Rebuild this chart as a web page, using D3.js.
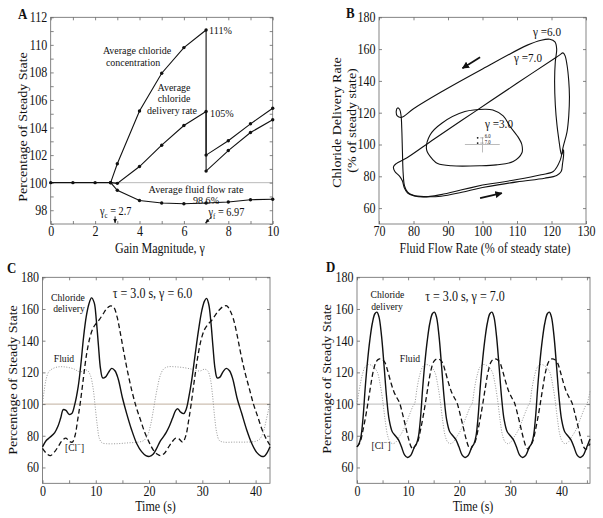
<!DOCTYPE html>
<html><head><meta charset="utf-8">
<script src="https://cdn.jsdelivr.net/npm/d3@7"></script>
<style>
body{margin:0;background:#fff}
svg{display:block;background:#fff}
text{font-family:"Liberation Serif","DejaVu Serif",serif;fill:#111}
</style>
</head><body><script>
// ---------------- DATA ----------------
// Panel A: averages vs gain magnitude
const gainFluid = [0,1,2,2.7,3,4,5,6,7,8,9,10];
const fluidAvg  = [100,100,100,100,99.45,98.71,98.52,98.47,98.52,98.6,98.76,98.8];
const gainCl    = [2.7,3,4,5,6,7,7,8,9,10];
const clConcAvg = [100,101.37,105.2,107.94,109.8,111.08,100.84,102.33,103.64,104.56];
const clDelivAvg= [100,99.95,101.17,102.72,104.15,105.16,102.0,103.04,104.27,105.4];
const gammaC = 2.7, gammaF = 6.97;
const aXTicks = [0,1,2,3,4,5,6,7,8,9,10], aXLabels=[0,2,4,6,8,10];
const aYTicks = [97,98,99,100,101,102,103,104,105,106,107,108,109,110,111,112], aYLabels=[98,100,102,104,106,108,110,112];

// Panel B: phase loops [fluid %, chloride delivery %]
const loop6 = [[100,73],[110,76.5],[118,78.8],[121.5,80.5],[122.8,83],[123.2,88],[123.5,93],[123.5,96.6],[123.2,95],[122.9,93.6],[122.6,96],[122.2,102],[121.6,112],[121.1,125],[120.9,140],[121.1,152],[121.5,160],[121,164.5],[119.5,166.2],[117,165.6],[113,162.5],[100,147.5],[88,133],[80,122.5],[76.5,117],[75.3,118],[75,121],[75.4,123],[76,122],[76.4,118],[76.6,110],[76.8,95],[77,82],[77.4,74],[78.3,70],[80,68],[83,67.2],[88,67.5],[94,70],[100,73]];
const loop7 = [[100,74.5],[110,78],[117,81],[120.5,83],[122.5,90],[123.4,98.7],[124.5,108],[125,118],[125.2,130],[125,140],[124.5,150],[123.9,156],[123.3,157.6],[122.5,156.5],[121.5,155],[110,138.5],[98,121],[86,103.5],[78,91.5],[75,88],[74.2,86],[74.6,83],[76,80],[76.8,77],[77.3,73],[78.3,69.5],[80,67.8],[83,67],[88,68.5],[94,71.5],[100,74.5]];
const loop3 = [[84.8,106],[88.2,113.4],[94.9,120.7],[100.7,122.2],[103,121.7],[106,118],[108,111.3],[110.5,104],[111.4,100],[111.4,94.6],[108.9,89.3],[104,87.2],[99.3,86.6],[91,86.6],[87,88],[85.7,90.3],[83.8,96.6]];
const steadyDots = [[98.6,104.2,"6.0"],[98.6,100.9,"7.0"]];
const bXTicks=[70,80,90,100,110,120,130], bYTicks=[60,80,100,120,140,160,180];

// Panel C: tau=3.0 s, gamma=6.0  [time s, %]
const cDelivery = [[0,73],[0.7,77],[1.4,79],[2.3,82],[2.9,86],[3.4,91],[3.9,96.5],[4.4,96],[5.0,93.5],[5.5,94],[6.0,99],[6.7,111],[7.2,125],[7.7,142],[8.2,155],[8.7,163],[9.2,167],[9.7,164],[10.1,153],[10.5,137],[10.9,122],[11.3,116.5],[11.8,117],[12.4,120],[13.0,122.5],[13.6,121],[14.2,116],[15.0,104],[15.8,94],[16.7,84],[17.7,75],[18.6,70],[19.4,67.5],[20.1,67],[20.8,68.5],[21.5,72.5],[22.0,76],[22.6,79],[23.2,82],[23.8,86],[24.4,91],[25.0,96],[25.4,97],[25.9,95],[26.5,94],[27.0,97],[27.5,105],[28.0,115],[28.6,130],[29.3,147],[29.9,159],[30.4,165],[30.8,166.7],[31.2,163],[31.6,152],[32.0,136],[32.4,122],[32.8,116.5],[33.3,117],[33.9,120.5],[34.5,122.5],[35.1,121],[35.7,116],[36.5,104],[37.4,94],[38.3,84],[39.3,75],[40.2,69.5],[41.0,67.2],[41.6,67],[42.2,69.5],[42.7,73]];
const cChloride = [[0,72],[0.7,69],[1.5,67.5],[2.3,70],[3.0,73.5],[3.7,77],[4.4,78.5],[5.0,76.5],[5.6,76],[6.1,80],[6.6,90],[7.1,101],[7.7,117],[8.3,132],[8.9,142],[9.5,148],[10.1,151],[10.7,153.5],[11.4,157],[12.1,160.5],[12.8,162],[13.4,161],[14.0,155],[14.6,145],[15.3,132],[16.0,120],[16.8,108],[17.6,98],[18.4,90],[19.2,82],[20.0,76],[20.8,71],[21.5,68.5],[22.2,67.5],[22.9,69],[23.6,72.5],[24.3,76],[25.0,78.5],[25.6,78],[26.3,76],[26.9,80],[27.4,89],[27.9,100],[28.5,115],[29.2,131],[29.8,141],[30.4,147],[31.1,150.5],[31.8,153],[32.5,156.5],[33.2,159.5],[33.9,161.5],[34.6,162],[35.2,159],[35.8,154],[36.5,144],[37.2,132],[38.0,120],[38.8,110],[39.6,100],[40.4,92],[41.2,84],[42.0,78],[42.7,74]];
const cFluid = [[0,100],[0.3,108],[0.7,116],[1.2,120.5],[2,122.5],[3,123.5],[4,123.5],[5,123],[6,122],[6.8,120.5],[7.4,120.5],[8,121.5],[8.5,121],[9,118],[9.5,110],[9.9,98],[10.3,86],[10.7,78],[11.2,75.5],[12,75],[14,75],[16,75.5],[18,76],[19,77],[19.7,80],[20.3,87],[20.8,96],[21.2,104],[21.6,111],[22.1,118],[22.7,122],[23.5,123.5],[25,123.5],[26.5,123],[28,122],[29,121],[29.7,121],[30.4,122],[31,121],[31.5,116],[31.9,106],[32.3,92],[32.7,82],[33.2,77],[34,76],[36,76],[38,76],[40,76.5],[40.8,78],[41.5,83],[42,90],[42.4,96],[42.7,100]];

// Panel D: tau=3.0 s, gamma=7.0
const dDelivery = [[0,73],[0.4,75],[0.8,80],[1.2,92],[1.6,110],[2.0,125],[2.5,140],[3.0,151],[3.5,157],[3.9,158],[4.3,155],[4.8,143],[5.3,124],[5.8,104],[6.3,90],[6.9,82.5],[7.5,80],[8.1,77.5],[8.7,73],[9.3,68],[9.9,66.3],[10.5,67.5],[11.0,71],
[11.25,73],[11.65,75],[12.05,80],[12.45,92],[12.85,110],[13.25,125],[13.75,140],[14.25,151],[14.75,157],[15.15,158],[15.55,155],[16.05,143],[16.55,124],[17.05,104],[17.55,90],[18.15,82.5],[18.75,80],[19.35,77.5],[19.95,73],[20.55,68],[21.15,66.3],[21.75,67.5],[22.25,71],
[22.5,73],[22.9,75],[23.3,80],[23.7,92],[24.1,110],[24.5,125],[25.0,140],[25.5,151],[26.0,157],[26.4,158],[26.8,155],[27.3,143],[27.8,124],[28.3,104],[28.8,90],[29.4,82.5],[30.0,80],[30.6,77.5],[31.2,73],[31.8,68],[32.4,66.3],[33.0,67.5],[33.5,71],
[33.75,73],[34.15,75],[34.55,80],[34.95,92],[35.35,110],[35.75,125],[36.25,140],[36.75,151],[37.25,157],[37.65,158],[38.05,155],[38.55,143],[39.05,124],[39.55,104],[40.05,90],[40.65,82.5],[41.25,80],[41.85,77.5],[42.45,73],[43.05,68],[43.65,66.3],[44.25,67.5],[44.75,71],[45.0,73],[45.6,78]];
const dChloride = [[0,73],[0.6,76],[1.2,84],[1.9,96],[2.6,110],[3.2,121],[3.8,127],[4.4,128.5],[5.0,128],[5.5,126],[6.0,121],[6.6,114],[7.2,108],[7.8,104],[8.3,101],[8.9,94],[9.5,86],[10.1,78],[10.6,73],[11.0,71.5],
[11.25,73],[11.85,76],[12.45,84],[13.15,96],[13.85,110],[14.45,121],[15.05,127],[15.65,128.5],[16.25,128],[16.75,126],[17.25,121],[17.85,114],[18.45,108],[19.05,104],[19.55,101],[20.15,94],[20.75,86],[21.35,78],[21.85,73],[22.25,71.5],
[22.5,73],[23.1,76],[23.7,84],[24.4,96],[25.1,110],[25.7,121],[26.3,127],[26.9,128.5],[27.5,128],[28.0,126],[28.5,121],[29.1,114],[29.7,108],[30.3,104],[30.8,101],[31.4,94],[32.0,86],[32.6,78],[33.1,73],[33.5,71.5],
[33.75,73],[34.35,76],[34.95,84],[35.65,96],[36.35,110],[36.95,121],[37.55,127],[38.15,128.5],[38.75,128],[39.25,126],[39.75,121],[40.35,114],[40.95,108],[41.55,104],[42.05,101],[42.65,94],[43.25,86],[43.85,78],[44.35,73],[44.75,71.5],[45.0,72],[45.6,75]];
const dFluid = [[0,100],[0.5,110],[1.0,118],[1.6,123.5],[2.2,125],[2.8,124.5],[3.4,123],[4.0,120],[4.5,113],[5.0,103],[5.5,90],[6.0,80],[6.5,76],[7.0,75],[7.6,76],[8.2,79],[8.8,82],[9.4,86],[10.0,91],[10.6,96],[11.0,99],
[11.25,100],[11.75,110],[12.25,118],[12.85,123.5],[13.45,125],[14.05,124.5],[14.65,123],[15.25,120],[15.75,113],[16.25,103],[16.75,90],[17.25,80],[17.75,76],[18.25,75],[18.85,76],[19.45,79],[20.05,82],[20.65,86],[21.25,91],[21.85,96],[22.25,99],
[22.5,100],[23.0,110],[23.5,118],[24.1,123.5],[24.7,125],[25.3,124.5],[25.9,123],[26.5,120],[27.0,113],[27.5,103],[28.0,90],[28.5,80],[29.0,76],[29.5,75],[30.1,76],[30.7,79],[31.3,82],[31.9,86],[32.5,91],[33.1,96],[33.5,99],
[33.75,100],[34.25,110],[34.75,118],[35.35,123.5],[35.95,125],[36.55,124.5],[37.15,123],[37.75,120],[38.25,113],[38.75,103],[39.25,90],[39.75,80],[40.25,76],[40.75,75],[41.35,76],[41.95,79],[42.55,82],[43.15,86],[43.75,91],[44.35,96],[44.75,99],[45.0,100],[45.6,108]];
const tsYTicks=[60,80,100,120,140,160,180];
const cXTicks=[0,5,10,15,20,25,30,35,40], dXTicks=[0,5,10,15,20,25,30,35,40,45], tsXLabels=[0,10,20,30,40];

// ---------------- DRAWING ----------------
const W=603,H=518, SX=0.86, FRAME="#666", FONT='"Liberation Serif","DejaVu Serif",serif';
const svg=d3.select("body").append("svg").attr("width",W).attr("height",H);
const defs=svg.append("defs");
defs.append("marker").attr("id","ahBig").attr("viewBox","0 0 10 10").attr("refX",9).attr("refY",5)
  .attr("markerWidth",4).attr("markerHeight",4).attr("orient","auto-start-reverse")
  .append("path").attr("d","M0,0L10,5L0,10z").attr("fill","#111");
defs.append("marker").attr("id","ahSmall").attr("viewBox","0 0 10 10").attr("refX",9).attr("refY",5)
  .attr("markerWidth",5).attr("markerHeight",5).attr("orient","auto-start-reverse")
  .append("path").attr("d","M0,1L10,5L0,9z").attr("fill","#111");

function T(g,x,y,s,o={}){
  const size=o.size||14, sx=o.sx||SX;
  const t=g.append("text").attr("font-size",size).attr("text-anchor",o.anchor||"start")
    .attr("font-weight",o.weight||"normal")
    .attr("transform",o.rot?`translate(${x},${y}) rotate(-90) scale(1,${sx})`:`translate(${x},${y}) scale(${sx},1)`);
  if(s!==null) t.text(s);
  return t;
}
function axes(g,x,y,o){
  const [x0,x1]=x.range(), [yb,yt]=y.range();
  const fmt=(labs)=>v=>labs.includes(v)?String(v):"";
  const gb=g.append("g").attr("transform",`translate(0,${yb})`)
    .call(d3.axisBottom(x).tickValues(o.xTicks).tickSize(-3).tickPadding(o.xPad||2.5).tickFormat(fmt(o.xLabels)));
  const gt=g.append("g").attr("transform",`translate(0,${yt})`)
    .call(d3.axisTop(x).tickValues(o.xTicks).tickSize(-3).tickFormat(""));
  const gl=g.append("g").attr("transform",`translate(${x0},0)`)
    .call(d3.axisLeft(y).tickValues(o.yTicks).tickSize(-3).tickPadding(o.yPad||4).tickFormat(fmt(o.yLabels)));
  const gr=g.append("g").attr("transform",`translate(${x1},0)`)
    .call(d3.axisRight(y).tickValues(o.yTicks).tickSize(-3).tickFormat(""));
  [gb,gt,gl,gr].forEach(a=>{
    a.attr("font-family",FONT).attr("font-size",14);
    a.select(".domain").remove();
    a.selectAll(".tick line").attr("stroke",FRAME).attr("stroke-width",0.8);
    a.selectAll(".tick text").attr("fill","#111").attr("transform",`scale(${SX},1)`);
  });
  g.append("rect").attr("x",x0).attr("y",yt).attr("width",x1-x0).attr("height",yb-yt)
    .attr("fill","none").attr("stroke",FRAME).attr("stroke-width",0.8);
}

// ===== Panel A =====
const gA=svg.append("g");
const xA=d3.scaleLinear([0,10],[50.7,272.7]), yA=d3.scaleLinear([97,112],[224,17.3]);
gA.append("line").attr("x1",xA(0)).attr("x2",xA(10)).attr("y1",yA(100)).attr("y2",yA(100)).attr("stroke","#bbb").attr("stroke-width",1);
axes(gA,xA,yA,{xTicks:aXTicks,xLabels:aXLabels,yTicks:aYTicks,yLabels:aYLabels});
const lineA=d3.line().x(d=>xA(d[0])).y(d=>yA(d[1]));
const serA=[d3.zip(gainFluid,fluidAvg), d3.zip(gainCl,clConcAvg), d3.zip(gainCl,clDelivAvg)];
serA.forEach(s=>{
  gA.append("path").attr("d",lineA(s)).attr("fill","none").attr("stroke","#111").attr("stroke-width",1.1);
  gA.selectAll(null).data(s).join("circle").attr("cx",d=>xA(d[0])).attr("cy",d=>yA(d[1])).attr("r",1.7).attr("fill","#111");
});
const AN={size:10.5,anchor:"middle",sx:0.95};
T(gA,137,54,"Average chloride",AN);
T(gA,133,65.5,"concentration",AN);
T(gA,174,90.5,"Average",AN);
T(gA,174,102,"chloride",AN);
T(gA,172,113.5,"delivery rate",AN);
T(gA,xA(7)+3,yA(111.08)+4,"111%",{size:11,sx:0.92});
T(gA,xA(7)+4,yA(105.16)+5,"105%",{size:11,sx:0.92});
T(gA,196,192.5,"Average fluid flow rate",{size:11,anchor:"middle",sx:0.93});
T(gA,206,203.5,"98.6%",{size:11,anchor:"middle",sx:0.92});
let t1=T(gA,100,214.5,null,{size:12});
t1.append("tspan").text("γ");
t1.append("tspan").attr("font-size",8).attr("dy",3).text("c");
t1.append("tspan").attr("dy",-3).text(" = "+gammaC);
let t2=T(gA,208.5,216,null,{size:12});
t2.append("tspan").text("γ");
t2.append("tspan").attr("font-size",8).attr("dy",3).text("f");
t2.append("tspan").attr("dy",-3).text(" = "+gammaF);
gA.append("line").attr("x1",xA(2.9)).attr("x2",xA(2.9)).attr("y1",yA(97.55)).attr("y2",yA(97.08))
  .attr("stroke","#111").attr("stroke-width",0.9).attr("marker-end","url(#ahSmall)");
gA.append("line").attr("x1",xA(7.27)).attr("x2",xA(gammaF)).attr("y1",yA(97.55)).attr("y2",yA(97.08))
  .attr("stroke","#111").attr("stroke-width",0.9).attr("marker-end","url(#ahSmall)");
T(gA,27,127,"Percentage of Steady State",{rot:true,anchor:"middle"});
T(gA,160,252.5,"Gain Magnitude, γ",{anchor:"middle"});
T(gA,18,19,"A",{size:15,weight:"bold"});

// ===== Panel B =====
const gB=svg.append("g");
const xB=d3.scaleLinear([70,130],[379,586]), yB=d3.scaleLinear([50,180],[224,17.3]);
axes(gB,xB,yB,{xTicks:bXTicks,xLabels:bXTicks,yTicks:bYTicks,yLabels:bYTicks});
const lineB=d3.line().x(d=>xB(d[0])).y(d=>yB(d[1])).curve(d3.curveCatmullRom.alpha(0.5));
const lineBc=d3.line().x(d=>xB(d[0])).y(d=>yB(d[1])).curve(d3.curveCatmullRomClosed.alpha(0.5));
// steady-state marker
gB.append("line").attr("x1",xB(94.9)).attr("x2",xB(105)).attr("y1",yB(100)).attr("y2",yB(100)).attr("stroke","#bbb").attr("stroke-width",1);
gB.append("line").attr("x1",xB(100)).attr("x2",xB(100)).attr("y1",yB(95)).attr("y2",yB(104.5)).attr("stroke","#bbb").attr("stroke-width",1);
steadyDots.forEach(d=>{
  gB.append("circle").attr("cx",xB(d[0])).attr("cy",yB(d[1])).attr("r",0.9).attr("fill","#111");
  gB.append("line").attr("x1",xB(d[0])+2.5).attr("x2",xB(d[0])+6).attr("y1",yB(d[1])).attr("y2",yB(d[1])).attr("stroke","#777").attr("stroke-width",0.5);
  T(gB,xB(d[0])+7,yB(d[1])+0.5,d[2],{size:5.5});
});
gB.append("path").attr("d",lineB(loop6)).attr("fill","none").attr("stroke","#111").attr("stroke-width",1.1);
gB.append("path").attr("d",lineB(loop7)).attr("fill","none").attr("stroke","#111").attr("stroke-width",1.1);
gB.append("path").attr("d",lineBc(loop3)).attr("fill","none").attr("stroke","#111").attr("stroke-width",1.1);
T(gB,533,36,"γ =6.0",{size:13});
T(gB,514,61.5,"γ =7.0",{size:13});
T(gB,485,127.5,"γ =3.0",{size:13});
gB.append("line").attr("x1",xB(99.3)).attr("y1",yB(154.9)).attr("x2",xB(94.2)).attr("y2",yB(148))
  .attr("stroke","#111").attr("stroke-width",1.8).attr("marker-end","url(#ahBig)");
gB.append("line").attr("x1",xB(99.3)).attr("y1",yB(66.3)).attr("x2",xB(105.6)).attr("y2",yB(69.4))
  .attr("stroke","#111").attr("stroke-width",1.8).attr("marker-end","url(#ahBig)");
T(gB,341,122.5,"Chloride Delivery Rate",{rot:true,anchor:"middle"});
T(gB,355.5,120.5,"(% of steady state)",{rot:true,anchor:"middle"});
T(gB,485,252.5,"Fluid Flow Rate (% of steady state)",{anchor:"middle"});
T(gB,346,18,"B",{size:15,weight:"bold"});

// ===== Panels C & D =====
function tsPanel(x,y,xTicks,deliv,chl,fl,o){
  const g=svg.append("g");
  g.append("line").attr("x1",x.range()[0]).attr("x2",x.range()[1]).attr("y1",y(100)).attr("y2",y(100))
    .attr("stroke",o.refColor).attr("stroke-width",1.2);
  axes(g,x,y,{xTicks:xTicks,xLabels:tsXLabels,yTicks:tsYTicks,yLabels:tsYTicks});
  const ln=d3.line().x(d=>x(d[0])).y(d=>y(d[1])).curve(d3.curveCatmullRom.alpha(0.5));
  g.append("path").attr("d",ln(fl)).attr("fill","none").attr("stroke","#8a8a8a").attr("stroke-width",0.9).attr("stroke-dasharray","1,1.6");
  g.append("path").attr("d",ln(chl)).attr("fill","none").attr("stroke","#111").attr("stroke-width",1.3).attr("stroke-dasharray","5,3");
  g.append("path").attr("d",ln(deliv)).attr("fill","none").attr("stroke","#111").attr("stroke-width",1.4);
  return g;
}
const xC=d3.scaleLinear([0,42.7],[42.5,270]), yC=d3.scaleLinear([50,180],[483.3,277.3]);
const gC=tsPanel(xC,yC,cXTicks,cDelivery,cChloride,cFluid,{refColor:"#cdbfb2"});
const LB={size:10.5,anchor:"middle",sx:0.92};
T(gC,68,300.5,"Chloride",LB);
T(gC,69,312,"delivery",LB);
T(gC,64,362,"Fluid",LB);
let tc=T(gC,65,451,null,{size:11});
tc.append("tspan").text("[Cl");
tc.append("tspan").attr("font-size",8).attr("dy",-4).text("−");
tc.append("tspan").attr("dy",4).text("]");
T(gC,152.5,297.5,"τ = 3.0 s, γ = 6.0",{size:14,anchor:"middle"});
T(gC,16.5,380,"Percentage of Steady State",{rot:true,anchor:"middle"});
T(gC,155.5,510.5,"Time (s)",{anchor:"middle"});
T(gC,7,273,"C",{size:15,weight:"bold"});

const xD=d3.scaleLinear([0,45.6],[357,590]), yD=d3.scaleLinear([50,180],[483.3,277.3]);
const gD=tsPanel(xD,yD,dXTicks,dDelivery,dChloride,dFluid,{refColor:"#c8c8c8"});
T(gD,387.5,298,"Chloride",LB);
T(gD,387,309.5,"delivery",LB);
T(gD,410,362,"Fluid",LB);
let td=T(gD,371.5,449,null,{size:11});
td.append("tspan").text("[Cl");
td.append("tspan").attr("font-size",8).attr("dy",-4).text("−");
td.append("tspan").attr("dy",4).text("]");
T(gD,465,301,"τ = 3.0 s, γ = 7.0",{size:14,anchor:"middle"});
T(gD,331,379,"Percentage of Steady State",{rot:true,anchor:"middle"});
T(gD,473,510.5,"Time (s)",{anchor:"middle"});
T(gD,326,272,"D",{size:15,weight:"bold"});
</script></body></html>
